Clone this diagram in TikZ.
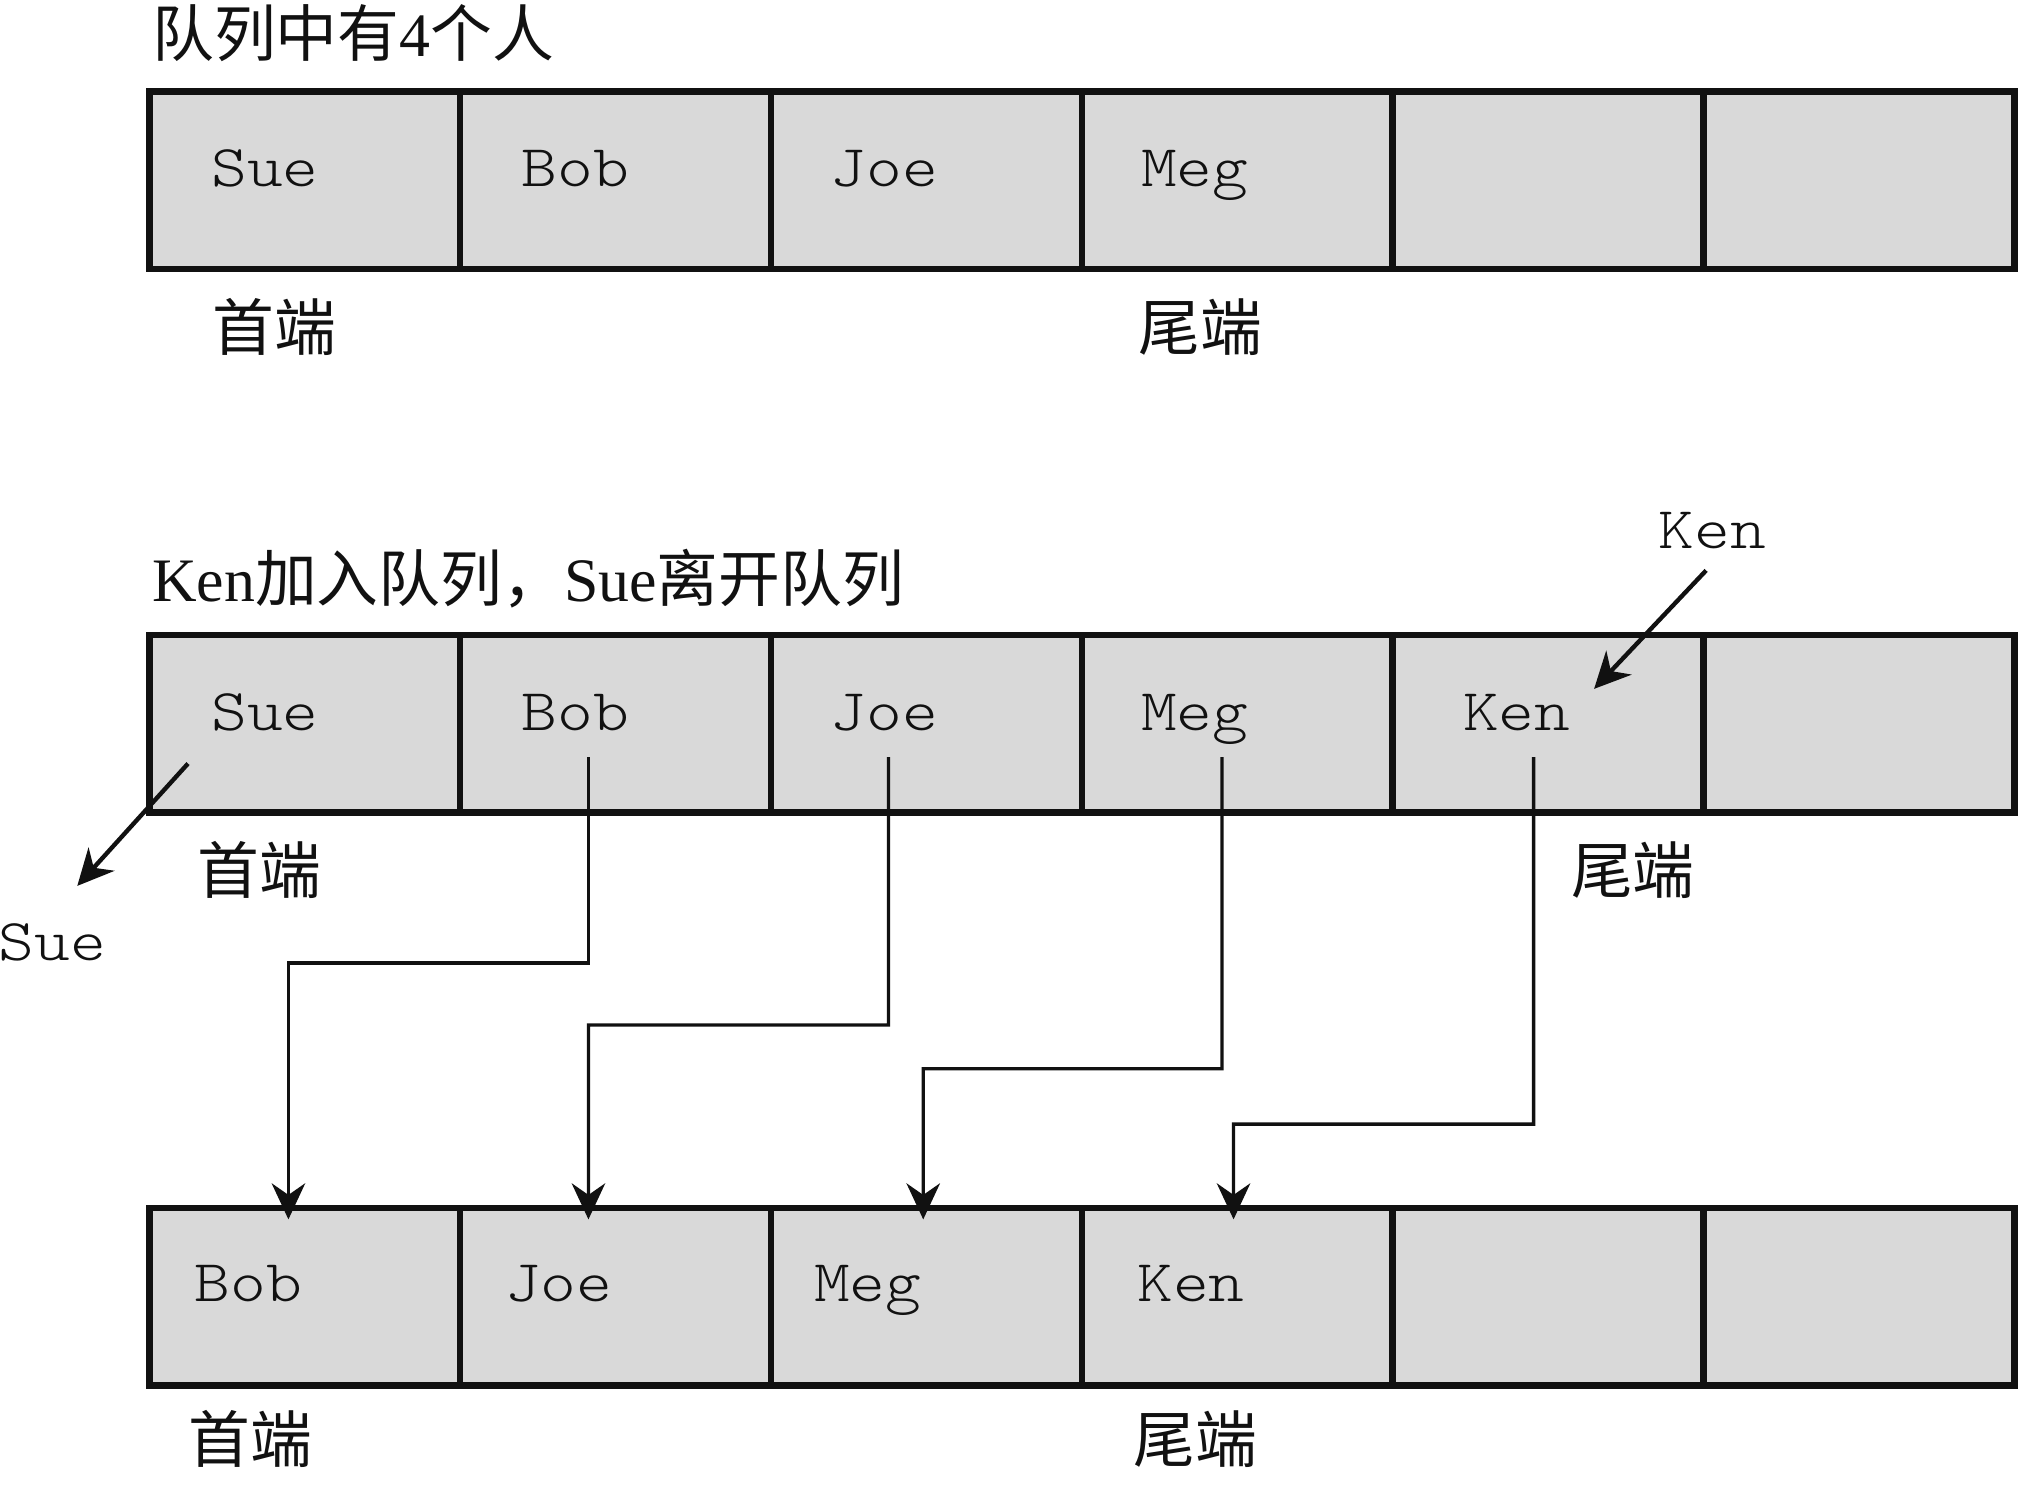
\documentclass[tikz,border=0pt]{standalone}
\usepackage{fontspec}
\setmainfont{Liberation Serif}
\newfontfamily\courfont{lmmonolt10-regular}[Extension=.otf, FakeStretch=1.15]
\newfontfamily\cjk{Noto Sans CJK SC}
\usetikzlibrary{arrows.meta,calc}
\definecolor{cellgray}{HTML}{D9D9D9}
\definecolor{ink}{HTML}{111111}
\begin{document}
\begin{tikzpicture}[x=1pt,y=-1pt,
  cell/.style={draw=ink, fill=cellgray, line width=5pt, minimum width=241.4pt,
    minimum height=138pt, inner sep=0pt, outer sep=0pt},
  pname/.style={font=\courfont\fontsize{46}{50}\selectfont, text=ink, inner sep=0pt, anchor=base west},
  lab/.style={font=\cjk\fontsize{48}{52}\selectfont, text=ink, inner sep=0pt, anchor=base west},
  ttl/.style={font=\fontsize{48}{52}\selectfont, text=ink, inner sep=0pt, anchor=base west},
  conn/.style={draw=ink, line width=2.6pt, -{Stealth[length=28pt,width=26pt,inset=9pt]}},
  movearrow/.style={draw=ink, line width=3.4pt, -{Stealth[length=28pt,width=27pt,inset=9pt]}}]
\useasboundingbox (0,0) rectangle (1568,1167);

% titles
\node[ttl] (title1) at (118,44) {{\cjk 队列中有}4{\cjk 个人}};
\node[ttl] (title2) at (118,467) {Ken{\cjk 加入队列，}Sue{\cjk 离开队列}};

% cells
\foreach \r/\yy in {1/140,2/562,3/1007}
  \foreach \c in {1,...,6}
    \node[cell] (r\r c\c) at ({116+241.4*(\c-0.5)},\yy) {};

% row 1 contents
\node[pname] (a1) at (164,145) {Sue};
\node[pname] (a2) at (405,145) {Bob};
\node[pname] (a3) at (645,145) {Joe};
\node[pname] (a4) at (886,145) {Meg};
\node[lab] (h1) at (165,272) {首端};
\node[lab] (e1) at (884,272) {尾端};

% row 2 contents
\node[pname] (b1) at (164,567) {Sue};
\node[pname] (b2) at (405,567) {Bob};
\node[pname] (b3) at (645,567) {Joe};
\node[pname] (b4) at (886,567) {Meg};
\node[pname] (b5) at (1136,567) {Ken};
\node[lab] (h2) at (153,694) {首端};
\node[lab] (e2) at (1220,694) {尾端};

% row 3 contents
\node[pname] (c1) at (151,1011) {Bob};
\node[pname] (c2) at (392,1011) {Joe};
\node[pname] (c3) at (632,1011) {Meg};
\node[pname] (c4) at (883,1011) {Ken};
\node[lab] (h3) at (146,1136) {首端};
\node[lab] (e3) at (880,1136) {尾端};

% Ken joins, Sue leaves
\node[pname] (kenin) at (1288,426) {Ken};
\node[pname] (sueout) at (-1,746) {Sue};
\coordinate (kenstart) at (1325,443);
\coordinate (kenend) at (1238,535);
\coordinate (suestart) at (146,593);
\coordinate (sueend) at (60,688);
\draw[movearrow] (kenstart) -- (kenend);
\draw[movearrow] (suestart) -- (sueend);

% shifting connectors
\coordinate (bobout) at (457,588);
\coordinate (joeout) at (690,588);
\coordinate (megout) at (949,588);
\coordinate (kenout) at (1191,588);
\draw[conn] (bobout) |- (224,748) -- ($(r3c1.north)+(-12.7,9)$);
\draw[conn] (joeout) |- (457,796) -- ($(r3c2.north)+(-21.1,9)$);
\draw[conn] (megout) |- (717,830) -- ($(r3c3.north)+(-2.5,9)$);
\draw[conn] (kenout) |- (958,873) -- ($(r3c4.north)+(-2.9,9)$);
\end{tikzpicture}
\end{document}
